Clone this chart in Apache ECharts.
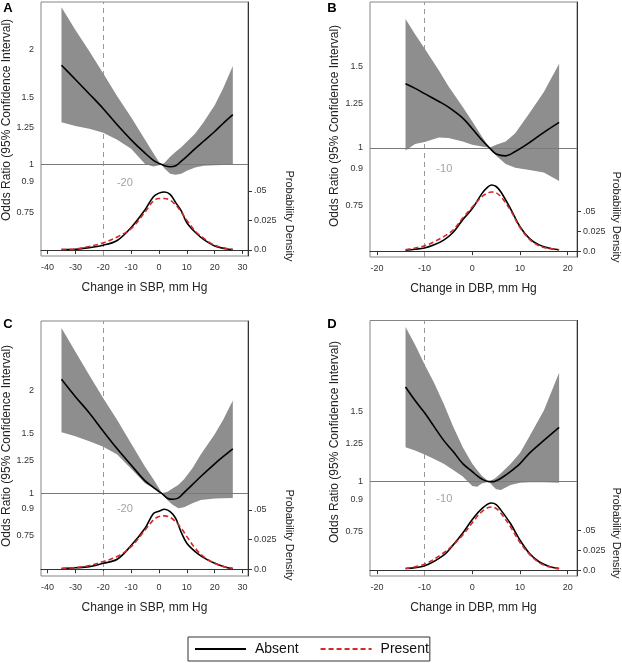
<!DOCTYPE html>
<html>
<head>
<meta charset="utf-8">
<script src="https://cdn.jsdelivr.net/npm/echarts@6/dist/echarts.min.js"></script>
<style>
html, body { margin: 0; padding: 0; background: #fff; }
#main { width: 622px; height: 663px; }
</style>
</head>
<body>
<div id="main"></div>
<script>
// tick labels
var sbpTicks = [-40, -30, -20, -10, 0, 10, 20, 30];
var dbpTicks = [-20, -10, 0, 10, 20];
var orTicksA = [0.75, 0.9, 1, 1.25, 1.5, 2];
var orTicksB = [0.75, 0.9, 1, 1.25, 1.5];
var densTicks = [0, 0.025, 0.05];
var legendNames = ['Absent', 'Present'];

// panel A (SBP)
var xA  = [-35, -30, -25, -20, -15, -10, -5, -2, 0, 1, 2, 4, 6, 8, 10, 13, 16, 20, 23, 26.5];
var orA = [1.82, 1.67, 1.53, 1.40, 1.27, 1.16, 1.07, 1.025, 1.006, 1.0, 0.992, 0.986, 0.992, 1.02, 1.05, 1.10, 1.15, 1.22, 1.28, 1.35];
var hiA = [2.58, 2.25, 1.98, 1.73, 1.51, 1.33, 1.16, 1.07, 1.014, 1.0, 1.01, 1.047, 1.08, 1.11, 1.147, 1.205, 1.29, 1.43, 1.58, 1.81];
var loA = [1.29, 1.26, 1.24, 1.21, 1.16, 1.10, 1.002, 0.988, 0.995, 1.0, 0.975, 0.945, 0.94, 0.945, 0.962, 0.982, 0.992, 0.995, 0.996, 0.998];
var dxA = [-35, -30, -25, -20, -15, -10, -5, -2, 0, 2, 4, 6, 8, 10, 13, 16, 20, 24, 26.5];
var absentA  = [0.0003, 0.0006, 0.002, 0.004, 0.008, 0.019, 0.034, 0.045, 0.048, 0.049, 0.047, 0.040, 0.033, 0.023, 0.015, 0.009, 0.0034, 0.001, 0.0003];
var presentA = [0.0003, 0.0008, 0.003, 0.006, 0.011, 0.018, 0.032, 0.0415, 0.0435, 0.0435, 0.042, 0.038, 0.032, 0.025, 0.016, 0.010, 0.004, 0.0014, 0.0003];

// panel B (DBP)
var xB  = [-14, -12, -10, -7, -5, -2, 0, 2, 3.6, 5, 7, 9, 12, 15, 18.2];
var orB = [1.376, 1.345, 1.31, 1.26, 1.225, 1.16, 1.10, 1.04, 1.0, 0.97, 0.961, 0.982, 1.027, 1.08, 1.135];
var hiB = [1.90, 1.76, 1.64, 1.47, 1.36, 1.225, 1.14, 1.058, 1.0, 1.015, 1.032, 1.076, 1.19, 1.32, 1.52];
var loB = [0.987, 1.02, 1.03, 1.053, 1.05, 1.032, 1.015, 1.007, 1.0, 0.961, 0.923, 0.906, 0.896, 0.884, 0.848];
var dxB = [-14, -12, -10, -8, -6, -4, -2, 0, 2, 3, 4, 5, 6, 8, 10, 12, 14, 16, 18.2];
var absentB  = [0.0013, 0.0025, 0.004, 0.008, 0.014, 0.024, 0.040, 0.054, 0.073, 0.080, 0.084, 0.082, 0.075, 0.054, 0.031, 0.016, 0.008, 0.004, 0.0017];
var presentB = [0.0017, 0.004, 0.0067, 0.012, 0.0185, 0.027, 0.042, 0.056, 0.069, 0.073, 0.075, 0.074, 0.069, 0.052, 0.030, 0.015, 0.0067, 0.0034, 0.0017];

// panel C (SBP)
var xC  = [-35, -30, -25, -20, -15, -10, -5, -2, 0, 1, 3, 5, 7, 9, 12, 15, 20, 23, 26.5];
var orC = [2.16, 1.92, 1.72, 1.52, 1.35, 1.21, 1.087, 1.041, 1.011, 1.0, 0.967, 0.960, 0.969, 1.004, 1.06, 1.12, 1.22, 1.28, 1.35];
var hiC = [3.05, 2.60, 2.22, 1.90, 1.64, 1.40, 1.197, 1.10, 1.034, 1.0, 1.011, 1.034, 1.06, 1.10, 1.185, 1.30, 1.49, 1.64, 1.87];
var loC = [1.51, 1.47, 1.42, 1.37, 1.30, 1.18, 1.07, 1.034, 1.005, 1.0, 0.956, 0.924, 0.904, 0.910, 0.935, 0.956, 0.965, 0.967, 0.969];
var dxC = [-35, -30, -25, -20, -15, -10, -5, -2, 0, 2, 4, 6, 8, 10, 13, 16, 20, 24, 26.5];
var absentC  = [0.0006, 0.0012, 0.0022, 0.005, 0.0084, 0.020, 0.0346, 0.047, 0.049, 0.0506, 0.0486, 0.043, 0.031, 0.022, 0.0149, 0.0098, 0.005, 0.0017, 0.0006];
var presentC = [0.0006, 0.0014, 0.0031, 0.0065, 0.0107, 0.019, 0.033, 0.0416, 0.0444, 0.045, 0.0438, 0.040, 0.0346, 0.0275, 0.0177, 0.0107, 0.005, 0.0017, 0.0006];

// panel D (DBP)
var xD  = [-14, -12, -10, -8, -6, -4, -2, 0, 1, 2, 3.5, 4.5, 5, 6, 8, 10, 12, 15, 18.2];
var orD = [1.73, 1.60, 1.49, 1.375, 1.27, 1.19, 1.11, 1.06, 1.035, 1.015, 1.0, 1.0, 1.005, 1.02, 1.06, 1.11, 1.18, 1.27, 1.37];
var hiD = [2.45, 2.21, 1.97, 1.77, 1.57, 1.375, 1.22, 1.11, 1.07, 1.035, 1.0, 1.015, 1.025, 1.05, 1.108, 1.18, 1.30, 1.51, 1.88];
var loD = [1.22, 1.197, 1.17, 1.14, 1.11, 1.07, 1.03, 0.975, 0.971, 0.99, 1.0, 0.97, 0.957, 0.953, 0.981, 0.994, 0.996, 0.996, 0.994];
var dxD = [-14, -10, -6, -4, -2, 0, 2, 4, 5, 6, 8, 10, 12, 14, 16, 18.2];
var absentD  = [0.002, 0.0055, 0.019, 0.032, 0.047, 0.064, 0.078, 0.085, 0.083, 0.076, 0.059, 0.038, 0.021, 0.0106, 0.005, 0.002];
var presentD = [0.002, 0.0076, 0.022, 0.032, 0.0445, 0.060, 0.074, 0.080, 0.078, 0.072, 0.055, 0.035, 0.020, 0.0097, 0.0042, 0.0017];

var font = "'Liberation Sans', Arial, sans-serif";

var panels = [
    { tag: 'A', title: 'Change in SBP, mm Hg', cut: -20, note: [-12.25, 0.895], xTicks: sbpTicks, orTicks: orTicksA,
      x: xA, or: orA, lo: loA, hi: hiA, dx: dxA, absent: absentA, present: presentA,
      grid: { left: 41, top: 2, width: 207, height: 254 }, xr: [-42.35, 31.95], yr: [0.5754, 2.665], dr: [-0.0051, 0.2094],
      tagPos: [8, 8], yt: [6.5, 120], dt: [289, 216] },
    { tag: 'B', title: 'Change in DBP, mm Hg', cut: -10, note: [-5.87, 0.899], xTicks: dbpTicks, orTicks: orTicksB,
      x: xB, or: orB, lo: loB, hi: hiB, dx: dxB, absent: absentB, present: presentB,
      grid: { left: 370, top: 2, width: 207, height: 255 }, xr: [-21.45, 21.95], yr: [0.5806, 2.068], dr: [-0.0074, 0.316],
      tagPos: [332, 8], yt: [334.5, 126], dt: [616, 217] },
    { tag: 'C', title: 'Change in SBP, mm Hg', cut: -20, note: [-12.25, 0.898], xTicks: sbpTicks, orTicks: orTicksA,
      x: xC, or: orC, lo: loC, hi: hiC, dx: dxC, absent: absentC, present: presentC,
      grid: { left: 41, top: 321, width: 207, height: 255 }, xr: [-42.35, 31.95], yr: [0.572, 3.20], dr: [-0.0057, 0.2094],
      tagPos: [8, 324], yt: [6.5, 446], dt: [289, 535] },
    { tag: 'D', title: 'Change in DBP, mm Hg', cut: -10, note: [-5.87, 0.903], xTicks: dbpTicks, orTicks: orTicksB,
      x: xD, or: orD, lo: loD, hi: hiD, dx: dxD, absent: absentD, present: presentD,
      grid: { left: 370, top: 320.5, width: 207, height: 255.5 }, xr: [-21.45, 21.95], yr: [0.579, 2.543], dr: [-0.0074, 0.316],
      tagPos: [332, 324], yt: [334.5, 442], dt: [616, 533] }
];

function pairs(xs, ys) {
    return xs.map(function (x, i) { return [x, ys[i]]; });
}

function orLabel(v) {
    return String(v);
}

function densLabel(v) {
    if (v === 0) return '0.0';
    if (v === 0.05) return '.05';
    return String(v);
}

// confidence band: one polygon, upper edge forward then lower edge back
function bandRenderer(p) {
    return function (params, api) {
        if (params.dataIndex !== 0) return null;
        var pts = [];
        for (var i = 0; i < p.x.length; i++) pts.push(api.coord([p.x[i], p.hi[i]]));
        for (var j = p.x.length - 1; j >= 0; j--) pts.push(api.coord([p.x[j], p.lo[j]]));
        return { type: 'polygon', shape: { points: pts }, style: { fill: '#8e8e8e', stroke: null } };
    };
}

var grids = [], xAxes = [], yAxes = [], series = [], graphics = [];

panels.forEach(function (p, k) {
    grids.push({
        left: p.grid.left, top: p.grid.top, width: p.grid.width, height: p.grid.height,
        show: true, borderColor: '#858585', borderWidth: 1, containLabel: false
    });

    xAxes.push({
        gridIndex: k, type: 'value', min: p.xr[0], max: p.xr[1],
        name: p.title, nameLocation: 'middle', nameGap: 26,
        nameTextStyle: { fontFamily: font, fontSize: 12, color: '#222' },
        axisLine: { show: true, lineStyle: { color: '#333', width: 1 } },
        axisTick: { show: true, length: 4, customValues: p.xTicks, lineStyle: { color: '#333' } },
        axisLabel: { customValues: p.xTicks, fontFamily: font, fontSize: 9, color: '#333', margin: 7 },
        splitLine: { show: false }
    });

    yAxes.push({
        gridIndex: k, type: 'log', logBase: 10, min: p.yr[0], max: p.yr[1], position: 'left',
        axisLine: { show: false },
        axisTick: { show: false, customValues: p.orTicks },
        axisLabel: { customValues: p.orTicks, formatter: orLabel, fontFamily: font, fontSize: 9, color: '#333', margin: 7 },
        splitLine: { show: false }
    });
    yAxes.push({
        gridIndex: k, type: 'value', min: p.dr[0], max: p.dr[1], position: 'right',
        axisLine: { show: true, lineStyle: { color: '#333', width: 1 } },
        axisTick: { show: true, length: 4, customValues: densTicks, lineStyle: { color: '#333' } },
        axisLabel: { customValues: densTicks, formatter: densLabel, fontFamily: font, fontSize: 9, color: '#333', margin: 6 },
        splitLine: { show: false }
    });

    series.push({
        type: 'custom', name: 'ci' + p.tag, xAxisIndex: k, yAxisIndex: 2 * k,
        data: p.x.map(function (x, i) { return [x, p.lo[i], p.hi[i]]; }),
        encode: { x: 0, y: [1, 2] },
        renderItem: bandRenderer(p), clip: true, silent: true, z: 2
    });
    series.push({
        type: 'line', name: 'or' + p.tag, xAxisIndex: k, yAxisIndex: 2 * k,
        data: pairs(p.x, p.or), symbol: 'none', smooth: 0.35,
        lineStyle: { color: '#000', width: 1.6 }, silent: true, z: 4,
        markLine: {
            silent: true, symbol: 'none', label: { show: false }, z: 3,
            lineStyle: { color: '#7a7a7a', type: 'solid', width: 1 },
            data: [{ yAxis: 1 }]
        },
        markPoint: {
            silent: true, symbol: 'circle', symbolSize: 0,
            label: { show: true, position: 'inside', formatter: String(p.cut), fontFamily: font, fontSize: 11, color: '#a3a3a3' },
            data: [{ coord: p.note }]
        }
    });
    series.push({
        type: 'line', name: legendNames[0], xAxisIndex: k, yAxisIndex: 2 * k + 1,
        data: pairs(p.dx, p.absent), symbol: 'none', smooth: 0.35,
        lineStyle: { color: '#000', width: 1.6 }, itemStyle: { color: '#000' }, z: 5,
        markLine: {
            silent: true, symbol: 'none', label: { show: false }, z: 1,
            lineStyle: { color: '#9a9a9a', type: [5, 4], width: 1 },
            data: [{ xAxis: p.cut }]
        }
    });
    series.push({
        type: 'line', name: legendNames[1], xAxisIndex: k, yAxisIndex: 2 * k + 1,
        data: pairs(p.dx, p.present), symbol: 'none', smooth: 0.35,
        lineStyle: { color: '#d42a2a', width: 1.6, type: [5, 3] }, itemStyle: { color: '#d42a2a' }, z: 6
    });

    graphics.push({
        type: 'text', x: p.tagPos[0], y: p.tagPos[1],
        style: { text: p.tag, fill: '#000', font: 'bold 13px ' + font, align: 'center', verticalAlign: 'middle' }
    });
    graphics.push({
        type: 'text', x: p.yt[0], y: p.yt[1], rotation: Math.PI / 2,
        style: { text: 'Odds Ratio (95% Confidence Interval)', fill: '#222', font: '12px ' + font, align: 'center', verticalAlign: 'middle' }
    });
    graphics.push({
        type: 'text', x: p.dt[0], y: p.dt[1], rotation: -Math.PI / 2,
        style: { text: 'Probability Density', fill: '#222', font: '11px ' + font, align: 'center', verticalAlign: 'middle' }
    });
});

var chart = echarts.init(document.getElementById('main'));
chart.setOption({
    backgroundColor: '#fff',
    animation: false,
    grid: grids,
    xAxis: xAxes,
    yAxis: yAxes,
    series: series,
    graphic: graphics,
    legend: {
        data: legendNames, left: 188, top: 637, orient: 'horizontal',
        itemWidth: 51, itemHeight: 14, itemGap: 21, padding: [5, 1, 5, 6],
        borderColor: '#333', borderWidth: 1, selectedMode: false,
        itemStyle: { opacity: 0 },
        textStyle: { fontFamily: font, fontSize: 14, color: '#111', padding: [0, 0, 0, 4] }
    }
});
</script>
</body>
</html>
